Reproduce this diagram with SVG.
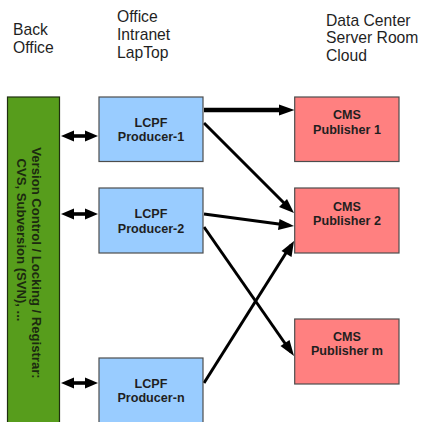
<svg xmlns="http://www.w3.org/2000/svg" width="422" height="422" viewBox="0 0 422 422">
<style>
text{font-family:"Liberation Sans",Arial,sans-serif;fill:#1f1f1f}
.h{font-size:15.7px}
.b{font-size:12.6px;font-weight:bold;text-anchor:middle}
.v{font-size:13.1px;font-weight:bold;text-anchor:middle;fill:#1c2a10}
.blue{fill:#99ccff;stroke:#4d4d4d;stroke-width:1.2}
.red{fill:#ff8080;stroke:#4d4d4d;stroke-width:1.2}
.c{fill:none;stroke:#000;stroke-width:3}
.d{fill:none;stroke:#000;stroke-width:3.6}
</style>
<defs>
<marker id="a" markerUnits="userSpaceOnUse" markerWidth="14" markerHeight="13" refX="8" refY="6" orient="auto-start-reverse"><path d="M0 0.500L13 6L0 11.500Z" fill="#000"/></marker>
</defs>
<rect width="422" height="422" fill="#fff"/>
<g id="labels">
<text class="h" x="13" y="35">Back</text><text class="h" x="13" y="53">Office</text>
<text class="h" x="117" y="22">Office</text><text class="h" x="117" y="40">Intranet</text><text class="h" x="117" y="58">LapTop</text>
<text class="h" x="326" y="26">Data Center</text><text class="h" x="326" y="43">Server Room</text><text class="h" x="326" y="61">Cloud</text>
</g>
<g id="connectors">
<path class="d" d="M66 136H93" marker-start="url(#a)" marker-end="url(#a)"/>
<path class="d" d="M66 214H93" marker-start="url(#a)" marker-end="url(#a)"/>
<path class="d" d="M66 383H93" marker-start="url(#a)" marker-end="url(#a)"/>
<path class="c" style="stroke-width:4.5" d="M204 110H283"/>
<path d="M279 104.500L294.500 110L279 115.500Z" fill="#000"/>
<path class="c" d="M204 123L290 209"/>
<path d="M294 213L279 207L287 199Z" fill="#000"/>
<path class="c" d="M204 214L290 225.500"/>
<path d="M294 226L278 230L279.500 219Z" fill="#000"/>
<path class="c" d="M204 227L291 352"/>
<path d="M294 356L280.500 346L289.500 340Z" fill="#000"/>
<path class="c" d="M204 383L291 245"/>
<path d="M294 241L291.500 257L281.500 251Z" fill="#000"/>
</g>
<g id="back-office"><rect x="7.5" y="97" width="52" height="340" fill="#579d1c" stroke="#1f2f10" stroke-width="1.2"/>
<text class="v" transform="translate(32 263) rotate(90)">Version Control / Locking / Registrar:</text>
<text class="v" transform="translate(17 240) rotate(90)">CVS, Subversion (SVN), ...</text></g>
<g id="producer-1"><rect class="blue" x="99" y="97" width="104" height="64.5"/><text class="b" x="151" y="127">LCPF</text><text class="b" x="151" y="141">Producer-1</text></g>
<g id="producer-2"><rect class="blue" x="99" y="188" width="104" height="65"/><text class="b" x="151" y="218">LCPF</text><text class="b" x="151" y="233">Producer-2</text></g>
<g id="producer-n"><rect class="blue" x="99" y="358" width="104" height="80"/><text class="b" x="151" y="388">LCPF</text><text class="b" x="151" y="402">Producer-n</text></g>
<g id="publisher-1"><rect class="red" x="294.7" y="97" width="104.3" height="64.5"/><text class="b" x="347" y="119">CMS</text><text class="b" x="347" y="134">Publisher 1</text></g>
<g id="publisher-2"><rect class="red" x="294.7" y="188" width="104.3" height="65"/><text class="b" x="347" y="211">CMS</text><text class="b" x="347" y="225">Publisher 2</text></g>
<g id="publisher-m"><rect class="red" x="294.7" y="319" width="104.3" height="65"/><text class="b" x="347" y="341">CMS</text><text class="b" x="347" y="355">Publisher m</text></g>
</svg>
